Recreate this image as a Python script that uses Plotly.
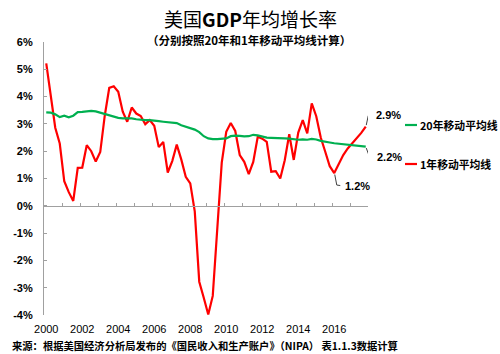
import plotly.graph_objects as go

# Quarterly data, 2000Q1 .. 2017Q4 (72 quarters)
quarters = [f"{2000 + k // 4}Q{k % 4 + 1}" for k in range(72)]

ma20 = [3.42, 3.41, 3.35, 3.25, 3.30, 3.24, 3.30, 3.43, 3.44, 3.46, 3.48, 3.46,
        3.41, 3.36, 3.32, 3.27, 3.22, 3.20, 3.20, 3.20, 3.17, 3.15, 3.14, 3.14,
        3.13, 3.10, 3.08, 3.06, 3.05, 3.03, 2.95, 2.90, 2.84, 2.79, 2.70, 2.55,
        2.47, 2.44, 2.44, 2.45, 2.47, 2.55, 2.57, 2.56, 2.54, 2.55, 2.60, 2.58,
        2.53, 2.50, 2.49, 2.49, 2.48, 2.47, 2.46, 2.43, 2.42, 2.43, 2.42, 2.45,
        2.43, 2.38, 2.36, 2.32, 2.29, 2.27, 2.25, 2.23, 2.21, 2.20, 2.18, 2.17]

ma1 = [5.22, 4.05, 2.86, 2.28, 0.90, 0.50, 0.18, 1.39, 1.40, 2.22, 2.00, 1.62,
       1.97, 3.30, 4.32, 4.38, 4.18, 3.45, 3.08, 3.60, 3.38, 3.29, 2.99, 3.14,
       2.93, 2.15, 2.34, 1.22, 1.64, 2.24, 1.70, 1.06, 0.82, -0.20, -2.78, -3.37,
       -3.98, -3.30, -0.90, 1.58, 2.71, 3.03, 2.74, 1.86, 1.61, 1.16, 1.61, 2.53,
       2.46, 2.34, 1.25, 1.27, 1.00, 1.67, 2.62, 1.68, 2.68, 3.14, 2.65, 3.75,
       3.28, 2.50, 1.98, 1.45, 1.20, 1.55, 1.86, 2.10, 2.29, 2.47, 2.67, 2.90]

year_labels = ["2000", "2002", "2004", "2006", "2008", "2010", "2012", "2014", "2016"]
y_vals = [-4, -3, -2, -1, 0, 1, 2, 3, 4, 5, 6]
y_labels = ["-4%", "-3%", "-2%", "-1%", "0%", "1%", "2%", "3%", "4%", "5%", "6%"]

GREEN = "#00b050"
RED = "#ff0000"
AXIS = "#a0a0a0"
FONT = "Noto Sans CJK SC"

n = len(quarters)
xi = list(range(n))
label_pos = [quarters.index(y + "Q1") for y in year_labels]
bound_pos = [k - 0.5 for k in range(0, n + 1, 4)]

fig = go.Figure()
fig.add_trace(go.Scatter(x=xi, y=ma20, mode="lines", xaxis="x2",
                         line=dict(color=GREEN, width=2.2), name="20年移动平均线",
                         hoverinfo="skip"))
fig.add_trace(go.Scatter(x=xi, y=ma1, mode="lines",
                         line=dict(color=RED, width=2.2), name="1年移动平均线",
                         hoverinfo="skip"))

fig.update_layout(
    width=500, height=354,
    margin=dict(l=44, r=132, t=42, b=39),
    paper_bgcolor="white", plot_bgcolor="white",
    showlegend=False,
    font=dict(family=FONT, color="black"),
    xaxis=dict(range=[-0.5, n - 0.5], tickvals=label_pos, ticktext=year_labels,
               showline=False, showgrid=False, zeroline=False,
               ticks="outside", ticklen=4, tickcolor="rgba(0,0,0,0)",
               tickfont=dict(family="Liberation Sans", size=11, color="black"),
               tickprefix="<b>", ticksuffix="</b>"),
    xaxis2=dict(range=[-0.5, n - 0.5], overlaying="x", anchor="free", position=0.4,
                side="bottom", tickvals=bound_pos, showticklabels=False,
                ticks="inside", ticklen=3, tickcolor=AXIS, tickwidth=1,
                showline=True, linecolor=AXIS, linewidth=1.2,
                showgrid=False, zeroline=False),
    yaxis=dict(range=[-4, 6], tickvals=y_vals,
               ticktext=[f"<b>{t}</b>" for t in y_labels],
               showline=True, linecolor=AXIS, linewidth=1.2,
               ticks="inside", ticklen=3, tickcolor=AXIS,
               showgrid=False, zeroline=False, ticklabelstandoff=8,
               tickfont=dict(family="Liberation Sans", size=11, color="black")),
)

# Title and subtitle
fig.add_annotation(text="美国<b>GDP</b>年均增长率", xref="paper", yref="paper",
                   x=0.5, y=1, xanchor="center", yanchor="middle",
                   xshift=(250 - (44 + 162)), yshift=42 - 18,
                   showarrow=False, font=dict(family=FONT, size=19, color="black"))
fig.add_annotation(text="<b>（分别按照20年和1年移动平均线计算）</b>", xref="paper", yref="paper",
                   x=0.5, y=1, xanchor="center", yanchor="middle",
                   xshift=(249 - (44 + 162)), yshift=42 - 40,
                   showarrow=False, font=dict(family=FONT, size=11.5, color="black"))
# Source
fig.add_annotation(text="<b>来源：根据美国经济分析局发布的《国民收入和生产账户》（NIPA） 表1.1.3数据计算</b>",
                   xref="paper", yref="paper", x=0, y=0, xanchor="left", yanchor="middle",
                   xshift=10 - 44, yshift=-(345.5 - 315),
                   showarrow=False, font=dict(family=FONT, size=10.3, color="black"))

# Manual legend
legend_items = [("20年移动平均线", GREEN, 125), ("1年移动平均线", RED, 164)]
for text, color, ypx in legend_items:
    yp = (315 - ypx) / (315 - 42)
    fig.add_shape(type="line", xref="paper", yref="paper",
                  x0=(405 - 44) / 324, x1=(417 - 44) / 324, y0=yp, y1=yp,
                  line=dict(color=color, width=2.2))
    fig.add_annotation(text=f"<b>{text}</b>", xref="paper", yref="paper",
                       x=(418 - 44) / 324, y=yp, xanchor="left", yanchor="middle",
                       showarrow=False, font=dict(family=FONT, size=10.8, color="black"))

# Data labels with elbow leader lines (path pixel offsets: +y is upward)
imin = 56 + ma1[56:].index(min(ma1[56:]))
callouts = [
    (n - 1, ma1[-1], "x", [(0.5, 1.5), (2.5, 11), (6, 11.5)], (8, 11.5)),
    (n - 1, ma20[-1], "x2", [(0.5, -1.5), (3.5, -9.5), (7, -10)], (9.5, -10)),
    (imin, ma1[imin], "x", [(0.5, -1.5), (2.5, -12), (6, -12.5)], (8.5, -12.5)),
]
for xv, yv, xr, pts, (dx, dy) in callouts:
    path = "M " + " L ".join(f"{px},{py}" for px, py in pts)
    fig.add_shape(type="path", xref=xr, yref="y", xsizemode="pixel", ysizemode="pixel",
                  xanchor=xv, yanchor=yv, path=path,
                  line=dict(color="#404040", width=1))
    fig.add_annotation(text=f"<b>{yv:.1f}%</b>", xref=xr, yref="y", x=xv, y=yv,
                       xanchor="left", yanchor="middle", xshift=dx, yshift=dy,
                       showarrow=False,
                       font=dict(family="Liberation Sans", size=11, color="black"))

fig.write_html("out.html")
